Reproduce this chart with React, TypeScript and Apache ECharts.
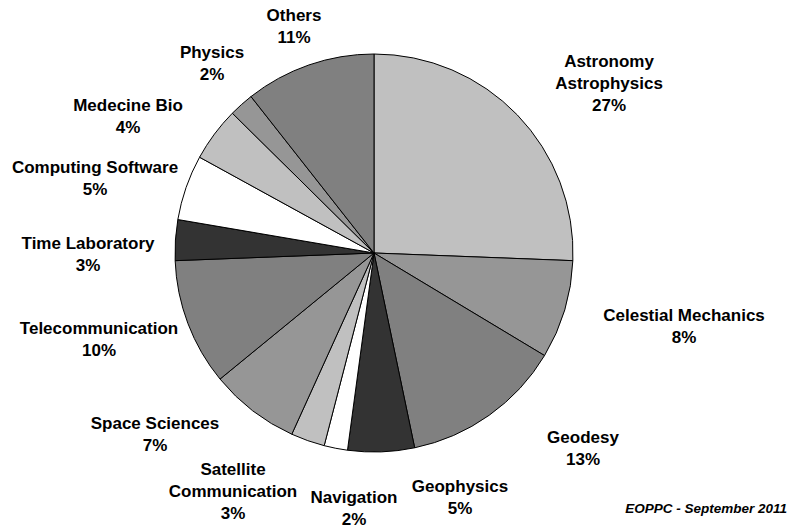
import React, { useEffect, useRef } from "react";
import * as echarts from "echarts";

// Categories, clockwise from 12 o'clock
const categories: string[] = [
  "Astronomy\nAstrophysics",
  "Celestial Mechanics",
  "Geodesy",
  "Geophysics",
  "Navigation",
  "Satellite\nCommunication",
  "Space Sciences",
  "Telecommunication",
  "Time Laboratory",
  "Computing Software",
  "Medecine Bio",
  "Physics",
  "Others",
];

// Slice sizes as drawn (share of the whole, %)
const sliceValues: number[] = [25.6, 8.0, 13.1, 5.4, 1.9, 2.75, 7.3, 10.3, 3.3, 5.3, 4.4, 2.0, 10.6];

// Percentages printed in the labels
const labelPercents: number[] = [27, 8, 13, 5, 2, 3, 7, 10, 3, 5, 4, 2, 11];

const footnote = "EOPPC - September 2011";

// Styling / layout (kept out of the data arrays)
const sliceColors: string[] = [
  "#c0c0c0", "#969696", "#808080", "#333333", "#ffffff", "#c0c0c0", "#969696",
  "#808080", "#333333", "#ffffff", "#c0c0c0", "#969696", "#808080",
];
const labelCenters: [number, number][] = [
  [609, 83], [684, 326], [583, 448], [460, 497], [354, 508], [233, 491], [155, 434],
  [99, 339], [88, 254], [95, 178], [128, 116], [212, 63], [294, 26],
];

export default function App() {
  const ref = useRef<HTMLDivElement>(null);
  useEffect(() => {
    if (!ref.current) return;
    const chart = echarts.init(ref.current, null, { renderer: "svg" });
    const font = '"Liberation Sans", Arial, Helvetica, sans-serif';
    chart.setOption({
      animation: false,
      backgroundColor: "#ffffff",
      series: [
        {
          type: "pie",
          center: [374, 253],
          radius: 199,
          startAngle: 90,
          clockwise: true,
          avoidLabelOverlap: false,
          data: categories.map((name, i) => ({
            name,
            value: sliceValues[i],
            itemStyle: { color: sliceColors[i] },
          })),
          itemStyle: { borderColor: "#000000", borderWidth: 1 },
          label: {
            show: true,
            position: "outside",
            formatter: (p: any) => `${p.name}\n${labelPercents[p.dataIndex]}%`,
            fontFamily: font,
            fontWeight: "bold",
            fontSize: 17,
            lineHeight: 22,
            color: "#000000",
            align: "center",
          },
          labelLine: { show: false },
          labelLayout: (params: any) => {
            const c = labelCenters[params.dataIndex];
            return { x: c[0], y: c[1], align: "center", verticalAlign: "middle", hideOverlap: false };
          },
          emphasis: { disabled: true },
        },
      ],
      graphic: [
        {
          type: "text",
          style: {
            text: footnote,
            x: 787,
            y: 508,
            align: "right",
            verticalAlign: "middle",
            textAlign: "right",
            textVerticalAlign: "middle",
            font: `italic bold 13.5px ${font}`,
            fill: "#000000",
          },
        },
      ],
    });
    return () => chart.dispose();
  }, []);
  return (
    <div
      ref={ref}
      style={{ position: "absolute", left: 0, top: 0, width: 801, height: 529, background: "#fff" }}
    />
  );
}
